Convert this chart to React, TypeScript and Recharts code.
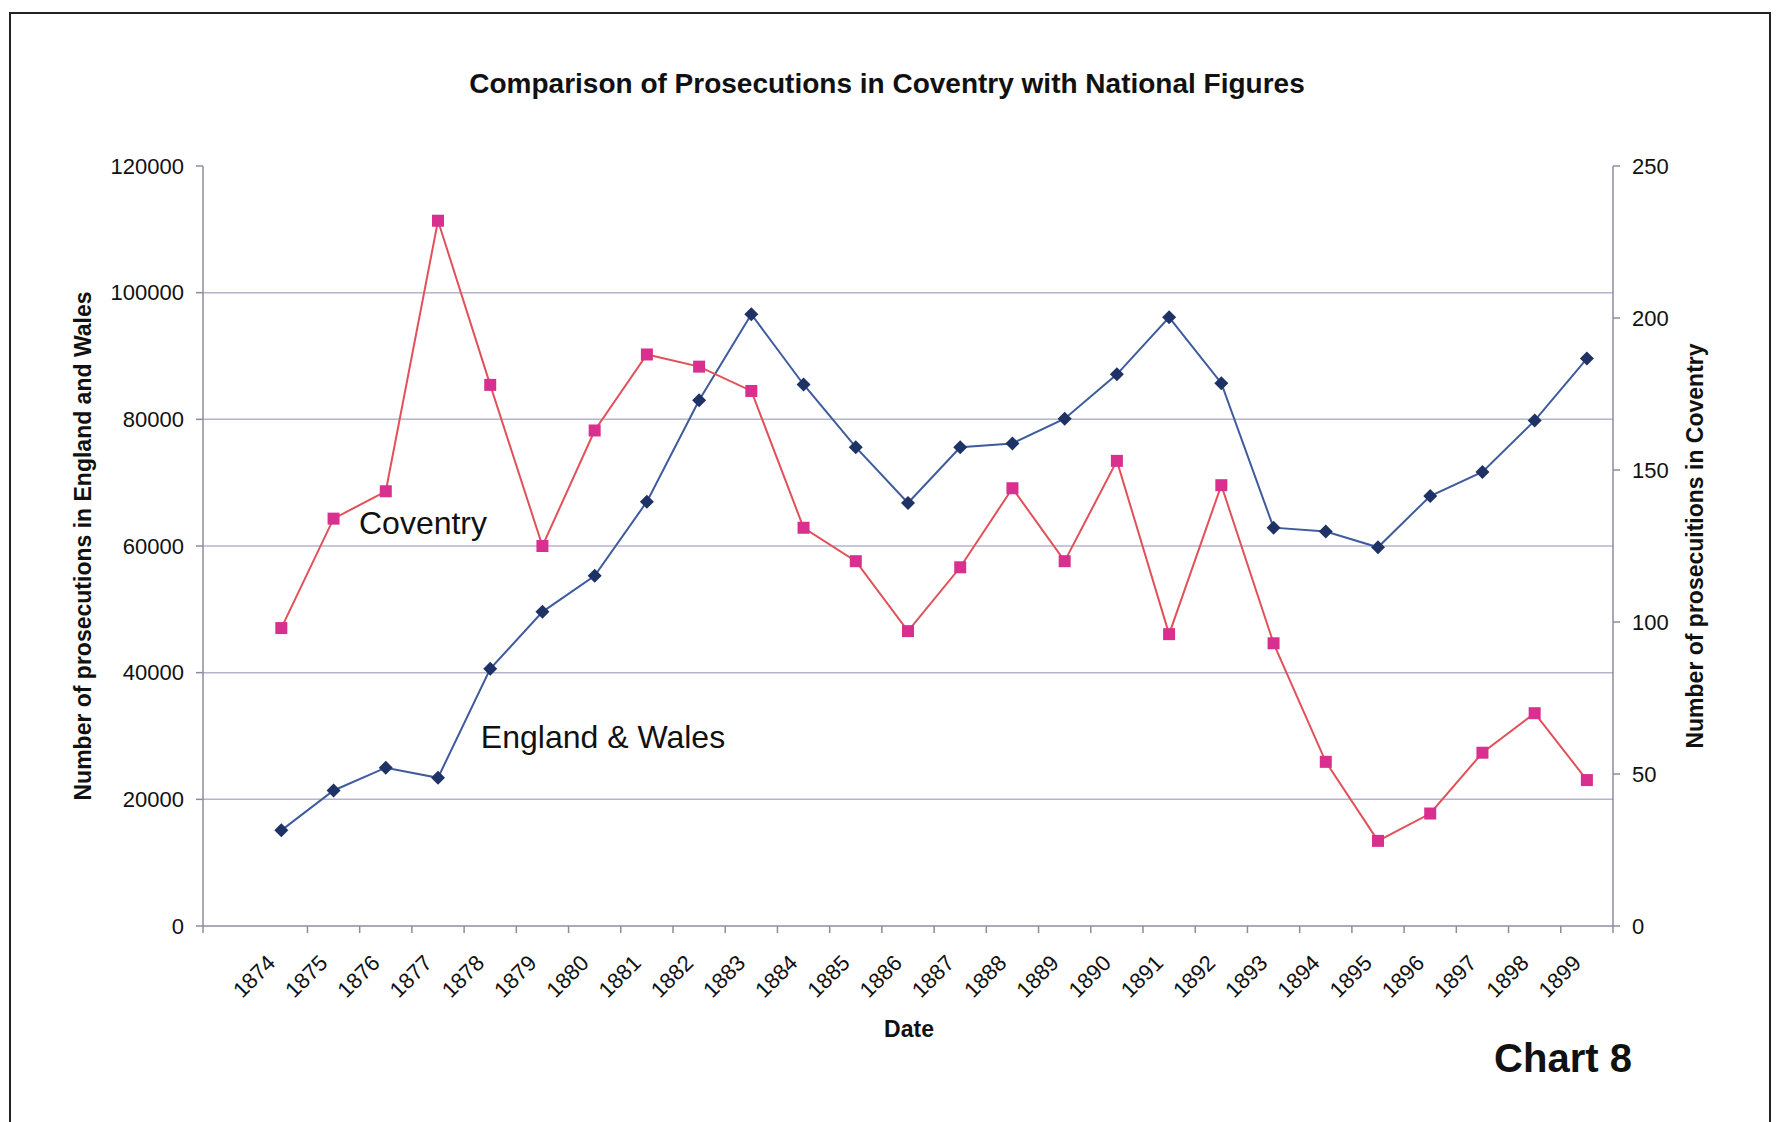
import React from "react";
import { LineChart, Line, XAxis, YAxis, CartesianGrid } from "recharts";

const years = [
  1874, 1875, 1876, 1877, 1878, 1879, 1880, 1881, 1882, 1883, 1884, 1885, 1886,
  1887, 1888, 1889, 1890, 1891, 1892, 1893, 1894, 1895, 1896, 1897, 1898, 1899,
];

// England & Wales (left axis)
const englandWales = [
  15100, 21400, 25000, 23400, 40600, 49600, 55300, 67000, 83000, 96600, 85500,
  75600, 66800, 75600, 76200, 80100, 87100, 96100, 85700, 62900, 62300, 59800,
  67900, 71700, 79800, 89600,
];

// Coventry (right axis)
const coventry = [
  98, 134, 143, 232, 178, 125, 163, 188, 184, 176, 131, 120, 97, 118, 144, 120,
  153, 96, 145, 93, 54, 28, 37, 57, 70, 48,
];

const leftTicks = [0, 20000, 40000, 60000, 80000, 100000, 120000];
const rightTicks = [0, 50, 100, 150, 200, 250];
const gridValues = [20000, 40000, 60000, 80000, 100000];
// category boundaries (first band is empty, as in the original)
const bandEdges = [1872.5, ...years.map((y) => y + 0.5)];

const data = years.map((year, i) => ({
  year,
  ew: englandWales[i],
  cov: coventry[i],
}));

const FONT = '"Liberation Sans", Arial, sans-serif';

const YearTick = (props: any) => {
  const { x, y, payload } = props;
  const ax = x - 10;
  const ay = y + 32;
  return (
    <text
      x={ax}
      y={ay}
      dy="0.35em"
      textAnchor="end"
      transform={`rotate(-45 ${ax} ${ay})`}
      fontSize={22}
      fontFamily={FONT}
      fill="#111"
    >
      {payload.value}
    </text>
  );
};

const NoLabel = () => <g />;

const SquareDot = (props: any) => {
  const { cx, cy } = props;
  if (cx == null || cy == null) return null;
  return <rect x={cx - 6} y={cy - 6} width={12} height={12} fill="#d92f8f" />;
};

const DiamondDot = (props: any) => {
  const { cx, cy } = props;
  if (cx == null || cy == null) return null;
  return (
    <polygon
      points={`${cx},${cy - 7} ${cx + 7},${cy} ${cx},${cy + 7} ${cx - 7},${cy}`}
      fill="#1f3266"
    />
  );
};

const abs = (cx: number, cy: number, style: React.CSSProperties, text: string) => (
  <div
    style={{
      position: "absolute",
      left: cx,
      top: cy,
      transform: "translate(-50%, -50%)",
      whiteSpace: "nowrap",
      lineHeight: 1,
      fontFamily: FONT,
      color: "#111",
      ...style,
    }}
  >
    {text}
  </div>
);

export default function App() {
  return (
    <div
      style={{
        position: "absolute",
        left: 0,
        top: 0,
        width: 1786,
        height: 1122,
        background: "#fff",
        overflow: "hidden",
      }}
    >
      <div
        style={{
          position: "absolute",
          left: 9,
          top: 12,
          width: 1762,
          height: 1130,
          border: "2px solid #222",
          boxSizing: "border-box",
        }}
      />
      <LineChart
        width={1786}
        height={1122}
        data={data}
        margin={{ top: 166, right: 43, bottom: 115, left: 73 }}
        style={{ position: "absolute", left: 0, top: 0 }}
      >
        <CartesianGrid
          yAxisId="left"
          vertical={false}
          horizontalValues={gridValues}
          stroke="#b4b4cc"
          strokeWidth={1.5}
        />
        <XAxis
          xAxisId="marks"
          type="number"
          dataKey="year"
          domain={[1872.5, 1899.5]}
          ticks={bandEdges}
          interval={0}
          height={1}
          tick={<NoLabel />}
          tickSize={7}
          stroke="#8c8ca0"
          strokeWidth={1.5}
        />
        <XAxis
          xAxisId="years"
          type="number"
          dataKey="year"
          domain={[1872.5, 1899.5]}
          ticks={years}
          interval={0}
          height={80}
          axisLine={false}
          tickLine={false}
          tickSize={0}
          tickMargin={0}
          tick={<YearTick />}
        />
        <YAxis
          yAxisId="left"
          orientation="left"
          width={130}
          domain={[0, 120000]}
          ticks={leftTicks}
          interval={0}
          tickSize={7}
          tickMargin={12}
          stroke="#8c8ca0"
          strokeWidth={1.5}
          tick={{ fill: "#111", fontSize: 22, fontFamily: FONT }}
          label={{
            value: "Number of prosecutions in England and Wales",
            angle: -90,
            position: "insideLeft",
            offset: 10,
            style: {
              textAnchor: "middle",
              fontWeight: "bold",
              fontSize: 23,
              fontFamily: FONT,
              fill: "#111",
            },
          }}
        />
        <YAxis
          yAxisId="right"
          orientation="right"
          width={130}
          domain={[0, 250]}
          ticks={rightTicks}
          interval={0}
          tickSize={7}
          tickMargin={12}
          stroke="#8c8ca0"
          strokeWidth={1.5}
          tick={{ fill: "#111", fontSize: 22, fontFamily: FONT }}
          label={{
            value: "Number of prosecuitions in Coventry",
            angle: -90,
            position: "insideRight",
            offset: 48,
            style: {
              textAnchor: "middle",
              fontWeight: "bold",
              fontSize: 23,
              fontFamily: FONT,
              fill: "#111",
            },
          }}
        />
        <Line
          xAxisId="years"
          yAxisId="left"
          dataKey="ew"
          stroke="#3e5b9e"
          strokeWidth={2}
          dot={<DiamondDot />}
          activeDot={false}
          isAnimationActive={false}
        />
        <Line
          xAxisId="years"
          yAxisId="right"
          dataKey="cov"
          stroke="#e2505a"
          strokeWidth={2}
          dot={<SquareDot />}
          activeDot={false}
          isAnimationActive={false}
        />
      </LineChart>
      {abs(887, 84, { fontSize: 28, fontWeight: "bold" }, "Comparison of Prosecutions in Coventry with National Figures")}
      {abs(423, 523, { fontSize: 32 }, "Coventry")}
      {abs(603, 737, { fontSize: 32 }, "England & Wales")}
      {abs(909, 1029, { fontSize: 23, fontWeight: "bold" }, "Date")}
      {abs(1563, 1058, { fontSize: 40, fontWeight: "bold" }, "Chart 8")}
    </div>
  );
}
